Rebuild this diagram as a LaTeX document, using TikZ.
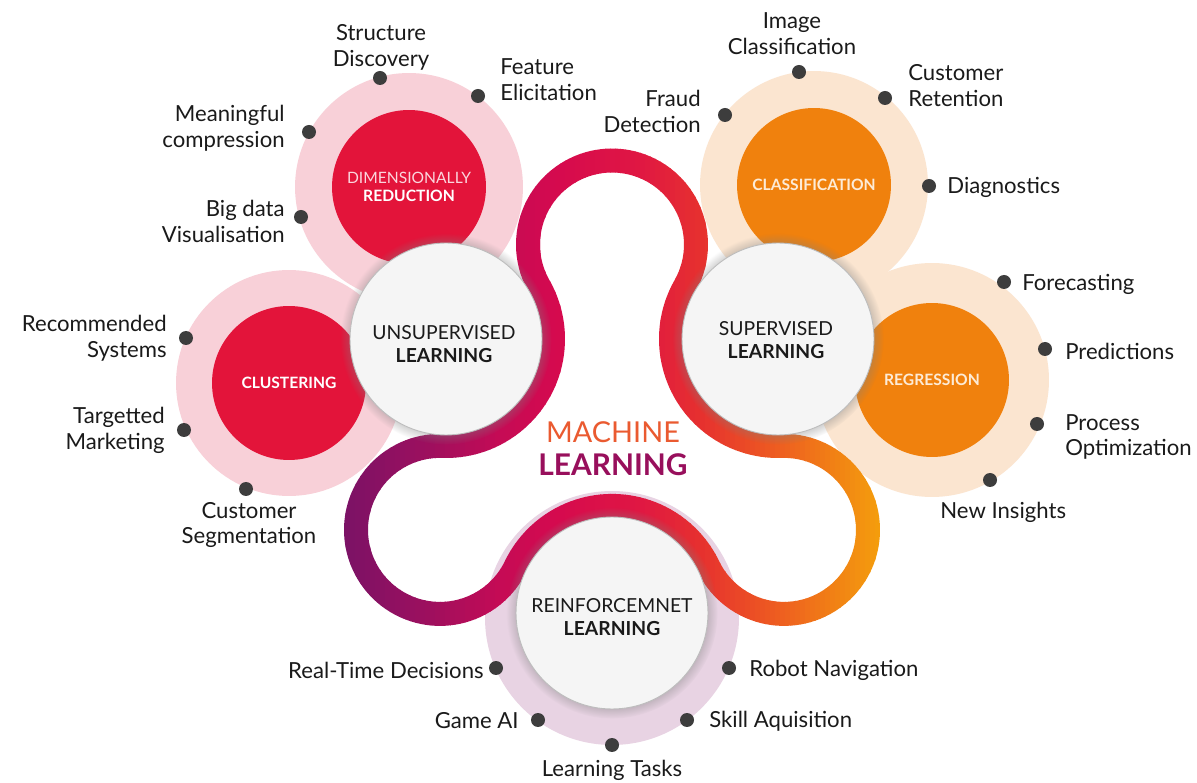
\documentclass[tikz,border=0pt]{standalone}
\usepackage{fontspec}
\setmainfont{Lato}
\usetikzlibrary{shadows}
\definecolor{pinkc}{HTML}{F8D0D8}
\definecolor{peachc}{HTML}{FBE5D0}
\definecolor{lilacc}{HTML}{E8D3E3}
\definecolor{redc}{HTML}{E3143A}
\definecolor{orangec}{HTML}{F0810D}
\definecolor{whitec}{HTML}{F5F5F5}
\definecolor{borderc}{HTML}{BDBDBD}
\definecolor{dotc}{HTML}{3D3D3D}
\definecolor{labelc}{HTML}{1A1A1A}
\definecolor{drtext}{HTML}{FBD6DD}
\definecolor{cstext}{HTML}{FDEBD6}
\definecolor{machc}{HTML}{EA5A30}
\definecolor{learnc}{HTML}{980F5C}
\definecolor{g1}{HTML}{7B1266}
\definecolor{g2}{HTML}{9E0F5E}
\definecolor{g3}{HTML}{C50B55}
\definecolor{g4}{HTML}{D60A4E}
\definecolor{g5}{HTML}{E01743}
\definecolor{g6}{HTML}{E6302F}
\definecolor{g7}{HTML}{EE5E20}
\definecolor{g8}{HTML}{F49E0C}
\newcommand\ribcol[1]{%
  \ifdim #1pt<430pt
    \pgfmathsetmacro\pp{max(0,(#1-345)/85*100)}\colorlet{rib}{g2!\pp!g1}%
  \else\ifdim #1pt<500pt
    \pgfmathsetmacro\pp{(#1-430)/70*100}\colorlet{rib}{g3!\pp!g2}%
  \else\ifdim #1pt<560pt
    \pgfmathsetmacro\pp{(#1-500)/60*100}\colorlet{rib}{g4!\pp!g3}%
  \else\ifdim #1pt<640pt
    \pgfmathsetmacro\pp{(#1-560)/80*100}\colorlet{rib}{g5!\pp!g4}%
  \else\ifdim #1pt<700pt
    \pgfmathsetmacro\pp{(#1-640)/60*100}\colorlet{rib}{g6!\pp!g5}%
  \else\ifdim #1pt<780pt
    \pgfmathsetmacro\pp{(#1-700)/80*100}\colorlet{rib}{g7!\pp!g6}%
  \else
    \pgfmathsetmacro\pp{min(100,(#1-780)/100*100)}\colorlet{rib}{g8!\pp!g7}%
  \fi\fi\fi\fi\fi\fi}
\def\ribpath{(539.0,286.08)
  arc[start angle=150.36, end angle=389.64, radius=84]
  arc[start angle=209.64, end angle=88.2, radius=107]
  arc[start angle=268.2, end angle=514.23, radius=84]
  arc[start angle=-25.77, end angle=-154.23, radius=107]
  arc[start angle=25.77, end angle=271.8, radius=84]
  arc[start angle=91.8, end angle=-29.64, radius=107]}
\begin{document}
\begin{tikzpicture}[x=0.02cm, y=-0.02cm,
  ring/.style={circle, inner sep=0pt},
  core/.style={circle, minimum size=3.08cm, inner sep=0pt, align=center,
    font=\fontsize{8.9}{10.4}\selectfont, text=white},
  wcirc/.style={circle, fill=whitec, draw=borderc, line width=0.5pt,
    minimum size=3.84cm, inner sep=0pt,
    circular drop shadow={shadow xshift=0pt, shadow yshift=0pt, shadow scale=1.1, opacity=0.55}},
  wtext/.style={align=center, text=labelc, inner sep=0pt, font=\fontsize{11}{13}\selectfont},
  dot/.style={circle, fill=dotc, inner sep=0pt, minimum size=0.28cm},
  lbl/.style={font=\fontsize{12.6}{14.74}\selectfont, text=labelc, inner sep=0pt},
  lblL/.style={lbl, anchor=west, align=left},
  lblR/.style={lbl, anchor=east, align=right},
  lblC/.style={lbl, align=center}]
\useasboundingbox (0,0) rectangle (1197,783);
\fill[white] (0,0) rectangle (1197,783);
% outer rings
\node[ring, fill=pinkc, minimum size=4.56cm] (drring) at (409,187) {};
\node[ring, fill=pinkc, minimum size=4.52cm] (clring) at (289,383) {};
\node[ring, fill=peachc, minimum size=4.56cm] (csring) at (814,185) {};
\node[ring, fill=peachc, minimum size=4.68cm] (rgring) at (932,380) {};
\node[ring, fill=lilacc, minimum size=5.08cm] (rlring) at (612,618) {};
% coloured cores
\node[core, fill=redc] (dr) at (409,187) {{\color{drtext}DIMENSIONALLY}\\\textbf{REDUCTION}};
\node[core, fill=redc] (cl) at (289,383) {\textbf{CLUSTERING}};
\node[core, fill=orangec, text=cstext] (cs) at (814,185) {\textbf{CLASSIFICATION}};
\node[core, fill=orangec, text=cstext] (rg) at (932,380) {\textbf{REGRESSION}};
% ribbon
\foreach \i in {0,...,112}{
  \pgfmathsetmacro\xa{330+5*\i}
  \pgfmathsetmacro\xb{\xa+5.6}
  \pgfmathsetmacro\xm{\xa+2.5}
  \ribcol{\xm}
  \begin{scope}
    \clip (\xa,0) rectangle (\xb,783);
    \draw[rib, line width=0.48cm, line cap=round, line join=round] \ribpath;
  \end{scope}
}
% white circles
\node[wcirc] (ul) at (446,339) {};
\node[wcirc] (sl) at (778,339) {};
\node[wcirc] (rfl) at (612,613) {};
\node[wtext] (ult) at (444,344) {UNSUPERVISED\\\textbf{LEARNING}};
\node[wtext] (slt) at (776,340) {SUPERVISED\\\textbf{LEARNING}};
\node[wtext] (rflt) at (612,617) {REINFORCEMNET\\\textbf{LEARNING}};
% centre title
\node[font=\fontsize{16.4}{20}\selectfont, text=machc, inner sep=0pt] (ml1) at (613,432) {MACHINE};
\node[font=\fontsize{17}{20}\selectfont\bfseries, text=learnc, inner sep=0pt] (ml2) at (613,465) {LEARNING};
% dots
\node[dot] (d1) at (380,78) {};
\node[dot] (d2) at (478,96) {};
\node[dot] (d3) at (309,132) {};
\node[dot] (d4) at (301,217) {};
\node[dot] (d5) at (186,338) {};
\node[dot] (d6) at (184,430) {};
\node[dot] (d7) at (246,489) {};
\node[dot] (d8) at (799,72) {};
\node[dot] (d9) at (885,98) {};
\node[dot] (d10) at (725,115) {};
\node[dot] (d11) at (929,186) {};
\node[dot] (d12) at (1004,282) {};
\node[dot] (d13) at (1045,349) {};
\node[dot] (d14) at (1037,424) {};
\node[dot] (d15) at (990,480) {};
\node[dot] (d16) at (496,668) {};
\node[dot] (d17) at (729,668) {};
\node[dot] (d18) at (538,720) {};
\node[dot] (d19) at (687,720) {};
\node[dot] (d20) at (612,745) {};
% labels
\node[lblC] (t1) at (381,47) {Structure\\Discovery};
\node[lblL] (t2) at (500,80) {Feature\\Elicitation};
\node[lblR] (t3) at (285,128) {Meaningful\\compression};
\node[lblR] (t4) at (285,221) {Big data\\Visualisation};
\node[lblR] (t5) at (167,338) {Recommended\\Systems};
\node[lblR] (t6) at (165,430) {Targetted\\Marketing};
\node[lblC] (t7) at (249,525) {Customer\\Segmentation};
\node[lblC] (t8) at (792,34) {Image\\Classification};
\node[lblL] (t9) at (908,86) {Customer\\Retention};
\node[lblR] (t10) at (701,111) {Fraud\\Detection};
\node[lblL] (t11) at (947,187) {Diagnostics};
\node[lblL] (t12) at (1022,284) {Forecasting};
\node[lblL] (t13) at (1065,351) {Predictions};
\node[lblL] (t14) at (1065,437) {Process\\Optimization};
\node[lblL] (t15) at (940,512) {New Insights};
\node[lblR] (t16) at (484,670) {Real-Time Decisions};
\node[lblL] (t17) at (749,670) {Robot Navigation};
\node[lblR] (t18) at (519,721) {Game AI};
\node[lblL] (t19) at (709,721) {Skill Aquisition};
\node[lblC] (t20) at (612,770) {Learning Tasks};
\end{tikzpicture}
\end{document}
